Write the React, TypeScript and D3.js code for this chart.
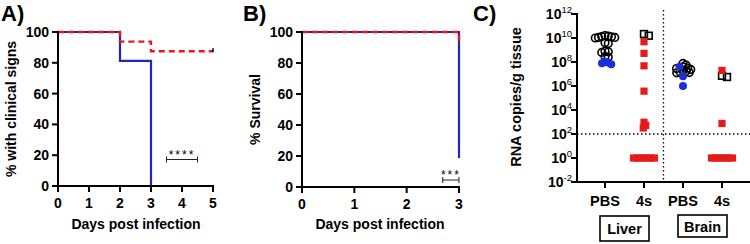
import React from "react";
import * as d3 from "d3";

const W = 750;
const H = 244;
const FONT = "'Liberation Sans', Arial, Helvetica, sans-serif";
const BLUE_LINE = "#2024b8";
const BLUE_DOT = "#1a2fd6";
const RED = "#e41b1b";

// Panel A / B data
const pctTicks = [0, 20, 40, 60, 80, 100];
const daysTicksA = [0, 1, 2, 3, 4, 5];
const daysTicksB = [0, 1, 2, 3];
const clinicalPBS: [number, number][] = [[0, 100], [2, 81.25], [3, 0]];
const clinical4s: [number, number][] = [[0, 100], [2, 93.75], [3, 87.5], [5, 87.5]];
const survivalPBS: [number, number][] = [[0, 100], [3, 18.75]];
const survival4s: [number, number][] = [[0, 100], [3, 93.75]];
const sigA = [3.5, 4.5, 17.2];
const sigB = [2.69, 3, 4.5];

// Panel C data (log10 RNA copies / g)
const groupLabels = ["PBS", "4s", "PBS", "4s"];
const tissueLabels = ["Liver", "Brain"];
const expTicks = [-2, 0, 2, 4, 6, 8, 10, 12];
const lodExp = 2;
const liverPBSOpen = [10.2, 10.15, 10.12, 10.1, 10.05, 10.0, 10.05, 9.6, 9.55, 8.9, 8.85, 8.8, 8.45, 8.4];
const liverPBSFilled = [8.03, 7.95, 7.9, 7.82];
const liver4sOpen = [10.33, 10.19];
const liver4sRed = [9.69, 8.72, 7.68, 5.57, 2.98, 2.72, 2.5, 0, 0, 0, 0, 0, 0, 0];
const brainPBSOpen = [7.88, 7.74, 7.6, 7.5, 7.45, 7.38, 7.3, 7.25, 7.18, 7.12, 7.1];
const brainPBSFilled = [7.6, 6.82, 6.0];
const brain4sOpen = [6.85, 6.75];
const brain4sRed = [7.3, 2.88, 0, 0, 0, 0, 0, 0, 0];

type Pt = { v: number; dx: number; y: number; tag: number };

function dodge(values: number[], tags: number[], y: (v: number) => number, minDist: number): Pt[] {
  const items = values.map((v, i) => ({ v, tag: tags[i] })).sort((a, b) => b.v - a.v);
  const placed: Pt[] = [];
  for (const it of items) {
    const py = y(it.v);
    let k = 0;
    let off = 0;
    while (true) {
      off = k === 0 ? 0 : (k % 2 ? 1 : -1) * Math.ceil(k / 2) * 0.25;
      const ok = placed.every((p) => Math.hypot(off - p.dx, py - p.y) >= minDist - 1e-6);
      if (ok) break;
      k++;
    }
    placed.push({ v: it.v, dx: off, y: py, tag: it.tag });
  }
  return placed;
}

const fontBold = { fontFamily: FONT, fontWeight: 700 as const };

function KMPanel(props: {
  x0: number; x1: number; yTop: number; yBot: number; days: number[];
  pbs: [number, number][]; s4: [number, number][]; sig: number[]; stars: string;
  yTitle: string; yTitleX: number; letter: string; letterX: number; censor?: boolean; xTitleX: number;
}) {
  const { x0, x1, yTop, yBot, days } = props;
  const x = d3.scaleLinear().domain([0, days[days.length - 1]]).range([x0, x1]);
  const y = d3.scaleLinear().domain([0, 100]).range([yBot, yTop]);
  const line = d3.line<[number, number]>().x((d) => x(d[0])).y((d) => y(d[1])).curve(d3.curveStepAfter);
  const last = props.s4[props.s4.length - 1];
  const [sf, st, sl] = props.sig;
  return (
    <g>
      <text x={props.letterX} y={21} fontSize={22} {...fontBold}>{props.letter}</text>
      <path d={line(props.pbs) || ""} fill="none" stroke={BLUE_LINE} strokeWidth={2.2} />
      <path d={line(props.s4) || ""} fill="none" stroke={RED} strokeWidth={2.4} strokeDasharray="6,4" />
      {props.censor && (
        <line x1={x(last[0])} x2={x(last[0])} y1={y(last[1]) - 3} y2={y(last[1]) + 1} stroke="black" strokeWidth={1.5} />
      )}
      <line x1={x(sf)} x2={x(st)} y1={y(sl)} y2={y(sl)} stroke="#222" strokeWidth={1} />
      <line x1={x(sf)} x2={x(sf)} y1={y(sl) - 3} y2={y(sl) + 3} stroke="#222" strokeWidth={1} />
      <line x1={x(st)} x2={x(st)} y1={y(sl) - 3} y2={y(sl) + 3} stroke="#222" strokeWidth={1} />
      <text x={(x(sf) + x(st)) / 2} y={y(sl) - 1} fontSize={12} fontFamily={FONT} textAnchor="middle" letterSpacing={2}>{props.stars}</text>
      <line x1={x0} x2={x0} y1={yTop - 1} y2={yBot + 1} stroke="black" strokeWidth={2} />
      <line x1={x0 - 1} x2={x1 + 1} y1={yBot} y2={yBot} stroke="black" strokeWidth={2} />
      {pctTicks.map((t) => (
        <g key={"y" + t}>
          <line x1={x0 - 6} x2={x0} y1={y(t)} y2={y(t)} stroke="black" strokeWidth={2} />
          <text x={x0 - 9} y={y(t) + 5} fontSize={14} textAnchor="end" {...fontBold}>{t}</text>
        </g>
      ))}
      {days.map((t) => (
        <g key={"x" + t}>
          <line x1={x(t)} x2={x(t)} y1={yBot} y2={yBot + 6} stroke="black" strokeWidth={2} />
          <text x={x(t)} y={yBot + 22} fontSize={14} textAnchor="middle" {...fontBold}>{t}</text>
        </g>
      ))}
      <text x={props.xTitleX} y={229} fontSize={14} textAnchor="middle" {...fontBold}>Days post infection</text>
      <text transform={`translate(${props.yTitleX},${(yTop + yBot) / 2}) rotate(-90)`} fontSize={14} textAnchor="middle" {...fontBold}>{props.yTitle}</text>
    </g>
  );
}

function PanelC() {
  const x0 = 577;
  const x1 = 750;
  const y = d3.scaleLog().domain([1e-2, 1e12]).range([182, 14]);
  const ye = (e: number) => y(Math.pow(10, e));
  const xc = d3.scalePoint<number>().domain([0, 1, 2, 3]).range([605, 722]);
  const groups = [
    { open: liverPBSOpen, filled: liverPBSFilled, sqOpen: [] as number[], red: [] as number[] },
    { open: [] as number[], filled: [] as number[], sqOpen: liver4sOpen, red: liver4sRed },
    { open: brainPBSOpen, filled: brainPBSFilled, sqOpen: [] as number[], red: [] as number[] },
    { open: [] as number[], filled: [] as number[], sqOpen: brain4sOpen, red: brain4sRed },
  ];
  const dividerX = (xc(1)! + xc(2)!) / 2;
  return (
    <g>
      <text x={473} y={21} fontSize={22} {...fontBold}>C)</text>
      <line x1={x0} x2={x1} y1={ye(lodExp)} y2={ye(lodExp)} stroke="black" strokeWidth={1.3} strokeDasharray="1.5,2.5" />
      <line x1={dividerX} x2={dividerX} y1={10} y2={182} stroke="black" strokeWidth={1.3} strokeDasharray="1.5,2.5" />
      {groups.map((g, i) => {
        const cx = xc(i)!;
        const circles = dodge(
          [...g.open, ...g.filled],
          [...g.open.map(() => 0), ...g.filled.map(() => 1)],
          ye, 3.3
        );
        const sqOpen = dodge(g.sqOpen, g.sqOpen.map(() => 0), ye, 5);
        const red = dodge(g.red, g.red.map(() => 0), ye, 3.5);
        return (
          <g key={i}>
            {circles.filter((m) => m.tag === 0).map((m, j) => (
              <circle key={"o" + j} cx={cx + m.dx} cy={m.y} r={3.8} fill="none" stroke="black" strokeWidth={1.6} />
            ))}
            {circles.filter((m) => m.tag === 1).map((m, j) => (
              <circle key={"f" + j} cx={cx + m.dx} cy={m.y} r={4} fill={BLUE_DOT} />
            ))}
            {sqOpen.map((m, j) => (
              <rect key={"s" + j} x={cx + m.dx - 3.4} y={m.y - 3.4} width={6.8} height={6.8} fill="none" stroke="black" strokeWidth={1.6} />
            ))}
            {red.map((m, j) => (
              <rect key={"r" + j} x={cx + m.dx - 3.6} y={m.y - 3.6} width={7.2} height={7.2} fill={RED} />
            ))}
          </g>
        );
      })}
      <line x1={x0} x2={x0} y1={13} y2={183} stroke="black" strokeWidth={2} />
      <line x1={x0 - 1} x2={x1} y1={182} y2={182} stroke="black" strokeWidth={2} />
      {expTicks.map((e) => (
        <g key={"e" + e}>
          <line x1={x0 - 6} x2={x0} y1={ye(e)} y2={ye(e)} stroke="black" strokeWidth={2} />
          <text x={572} y={ye(e) + 5} fontSize={14} textAnchor="end" {...fontBold}>
            10<tspan fontSize={9.5} fontWeight={400} dy={-6}>{e}</tspan>
          </text>
        </g>
      ))}
      {groupLabels.map((l, i) => (
        <g key={"g" + i}>
          <line x1={xc(i)!} x2={xc(i)!} y1={182} y2={188} stroke="black" strokeWidth={2} />
          <text x={xc(i)!} y={206} fontSize={14.5} textAnchor="middle" {...fontBold}>{l}</text>
        </g>
      ))}
      {tissueLabels.map((t, i) => {
        const cx = (xc(i * 2)! + xc(i * 2 + 1)!) / 2;
        const yTop = i === 0 ? 216 : 215;
        const hh = i === 0 ? 25 : 22;
        return (
          <g key={t}>
            <rect x={cx - 24.5} y={yTop} width={49} height={hh} fill="white" stroke="black" strokeWidth={1.6} />
            <text x={cx} y={yTop + hh / 2 + 5.5} fontSize={14.5} textAnchor="middle" {...fontBold}>{t}</text>
          </g>
        );
      })}
      <text transform="translate(521,97) rotate(-90)" fontSize={14.5} textAnchor="middle" {...fontBold}>RNA copies/g tissue</text>
    </g>
  );
}

export default function App() {
  return (
    <svg width={W} height={H} viewBox={`0 0 ${W} ${H}`} style={{ position: "absolute", left: 0, top: 0, background: "white" }}>
      <rect x={0} y={0} width={W} height={H} fill="white" />
      <KMPanel x0={58} x1={213} yTop={32} yBot={186} days={daysTicksA} pbs={clinicalPBS} s4={clinical4s}
        sig={sigA} stars="****" yTitle="% with clinical signs" yTitleX={16} letter="A)" letterX={1} censor xTitleX={136} />
      <KMPanel x0={302} x1={459} yTop={32} yBot={187} days={daysTicksB} pbs={survivalPBS} s4={survival4s}
        sig={sigB} stars="***" yTitle="% Survival" yTitleX={260} letter="B)" letterX={243} xTitleX={380} />
      <PanelC />
    </svg>
  );
}
